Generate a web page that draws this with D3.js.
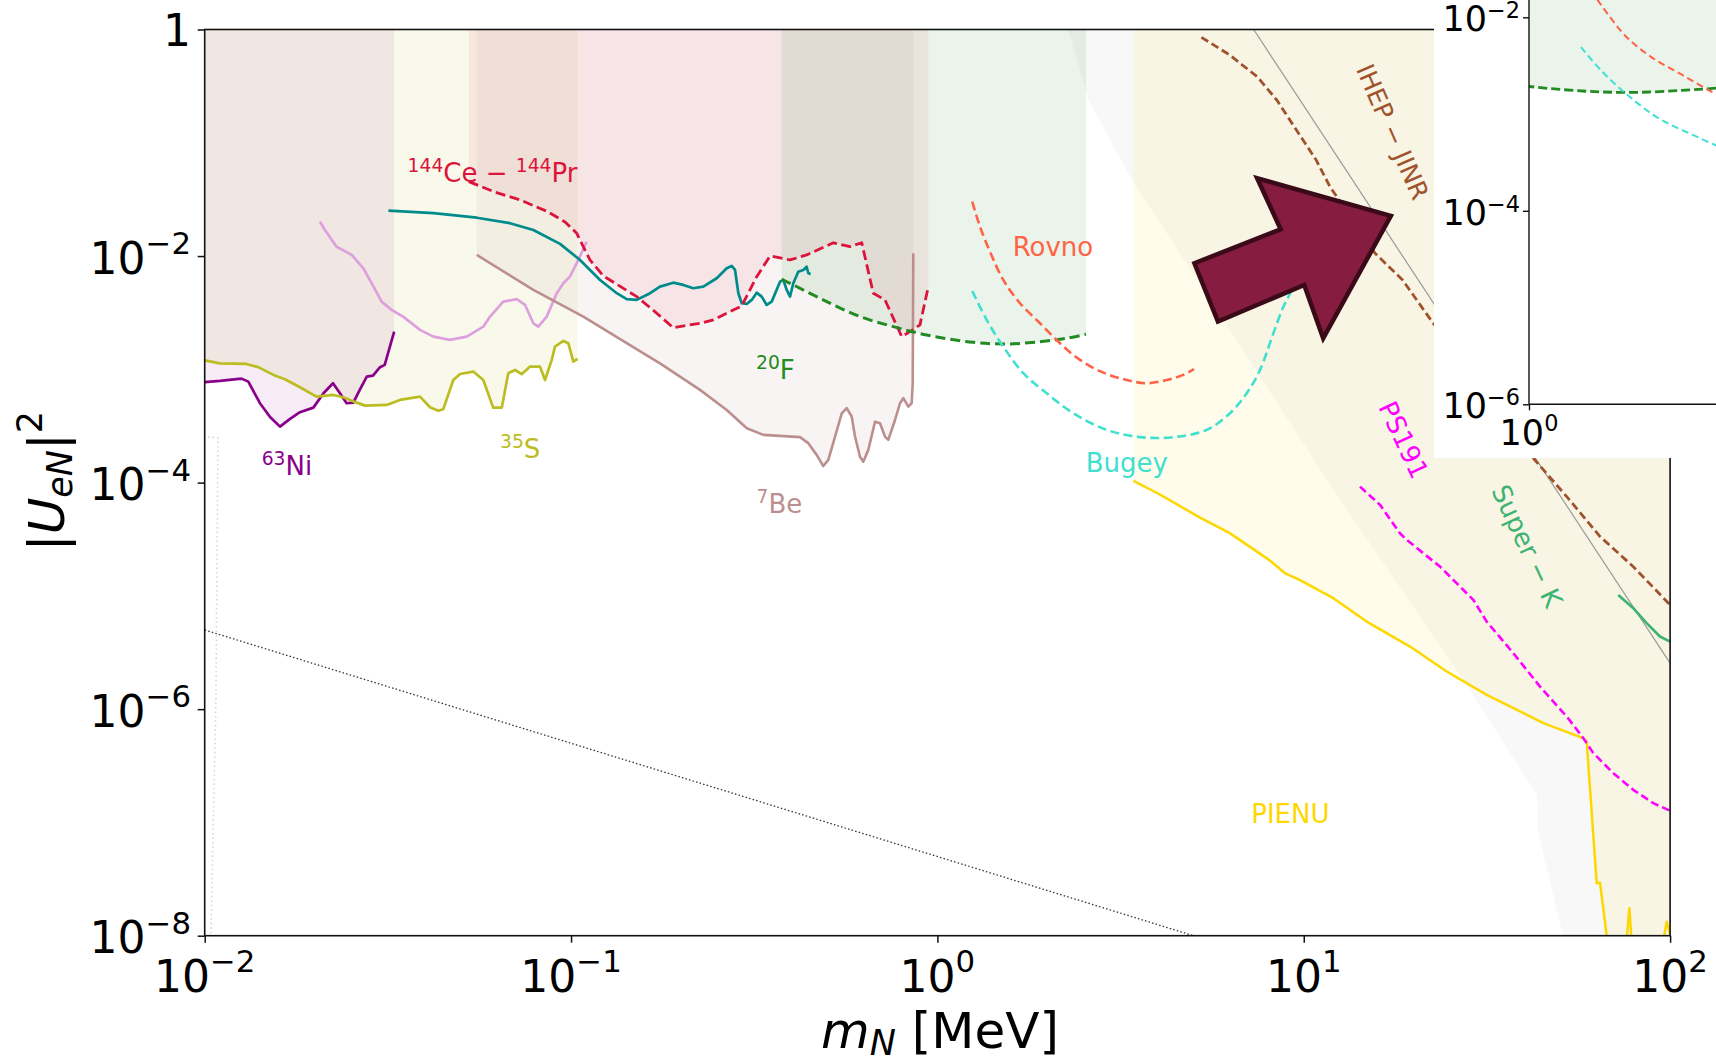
<!DOCTYPE html>
<html>
<head>
<meta charset="utf-8">
<script src="https://cdn.jsdelivr.net/npm/d3@7"></script>
<style>
  body { margin: 0; background: #fff; }
  svg { display: block; }
  text { font-family: "DejaVu Sans", sans-serif; }
</style>
</head>
<body>
<svg id="chart" width="1716" height="1064"></svg>
<script>
// ---- data: [m_N in MeV, |U_eN|^2] ----
const ni63 = [[0.01,7.7e-4],[0.0110,7.9e-4],[0.0126,8.28e-4],[0.01315,7.79e-4],[0.01415,5.02e-4],[0.0151,3.78e-4],
  [0.01605,3.12e-4],[0.0171,3.65e-4],[0.0182,4.18e-4],[0.0198,4.59e-4],[0.0211,6.15e-4],[0.0224,7.54e-4],[0.0234,6.15e-4],
  [0.0244,5.02e-4],[0.02545,5.08e-4],[0.0265,6.58e-4],[0.0277,8.63e-4],[0.0288,8.8e-4],[0.0301,1.044e-3],[0.0310,1.094e-3],[0.0329,2.15e-3]];

const s35 = [[0.01,1.20e-3],[0.0110,1.13e-3],[0.0130,1.115e-3],[0.0140,1.045e-3],[0.0154,8.93e-4],[0.01656,8.18e-4],
  [0.0182,6.95e-4],[0.0202,5.74e-4],[0.0224,5.94e-4],[0.0239,5.67e-4],[0.0260,5.08e-4],[0.0274,4.78e-4],[0.0314,4.85e-4],
  [0.0341,5.37e-4],[0.0387,5.74e-4],[0.0412,4.63e-4],[0.0434,4.30e-4],[0.0448,4.45e-4],[0.0477,8.05e-4],[0.0498,9.1e-4],
  [0.0541,9.55e-4],[0.0576,8.05e-4],[0.0613,4.59e-4],[0.0647,4.59e-4],[0.0674,9.25e-4],[0.0703,9.88e-4],[0.0733,9.06e-4],
  [0.0773,1.057e-3],[0.0823,1.057e-3],[0.0849,8.05e-4],[0.0885,1.20e-3],[0.0904,1.585e-3],[0.0953,1.78e-3],[0.0983,1.70e-3],
  [0.1014,1.17e-3],[0.1042,1.236e-3]];

const plum = [[0.02064,2.01e-2],[0.0213,1.70e-2],[0.0229,1.21e-2],[0.0252,1.023e-2],[0.0271,7.8e-3],[0.0289,5.37e-3],
  [0.0304,3.96e-3],[0.0324,3.34e-3],[0.0348,2.92e-3],[0.0387,2.23e-3],[0.0421,1.945e-3],[0.0467,1.817e-3],[0.0519,1.945e-3],
  [0.0576,2.38e-3],[0.0601,2.92e-3],[0.0653,3.96e-3],[0.0711,4.16e-3],[0.0749,3.70e-3],[0.0789,2.55e-3],[0.0814,2.38e-3],
  [0.0858,2.92e-3],[0.0914,4.70e-3],[0.0953,5.75e-3],[0.0993,6.58e-3],[0.1047,9.24e-3],[0.1103,1.34e-2]];

const teal = [[0.03173,2.52e-2],[0.0421,2.39e-2],[0.0553,2.18e-2],[0.0681,1.95e-2],[0.0789,1.70e-2],[0.0933,1.28e-2],
  [0.1058,9.24e-3],[0.1200,6.15e-3],[0.1333,4.70e-3],[0.1419,4.16e-3],[0.1511,4.10e-3],[0.1643,4.70e-3],[0.1749,5.37e-3],
  [0.1901,5.82e-3],[0.2025,5.56e-3],[0.2156,5.20e-3],[0.2296,5.37e-3],[0.2498,6.37e-3],[0.2660,7.80e-3],[0.2745,8.18e-3],
  [0.2803,7.54e-3],[0.2862,4.70e-3],[0.2924,3.83e-3],[0.3018,3.78e-3],[0.3113,4.10e-3],[0.3212,4.75e-3],[0.3314,4.38e-3],
  [0.3420,3.70e-3],[0.3530,3.96e-3],[0.3719,5.94e-3],[0.3797,6.15e-3],[0.3879,5.02e-3],[0.3960,4.38e-3],[0.4043,5.75e-3],
  [0.4171,7.28e-3],[0.4305,7.54e-3],[0.4397,8.05e-3],[0.4442,7.05e-3],[0.4509,6.95e-3]];

const ce144 = [[0.0526,4.54e-2],[0.0615,3.70e-2],[0.0726,3.13e-2],[0.0862,2.47e-2],[0.0963,2.00e-2],[0.1036,1.59e-2],
  [0.1080,1.21e-2],[0.1126,9.24e-3],[0.1225,6.67e-3],[0.1511,4.38e-3],[0.1713,3.13e-3],[0.1901,2.33e-3],[0.2249,2.55e-3],
  [0.2445,2.73e-3],[0.2924,3.63e-3],[0.3212,6.58e-3],[0.3493,1.002e-2],[0.3960,9.24e-3],[0.4397,1.023e-2],[0.5198,1.31e-2],
  [0.5772,1.21e-2],[0.6216,1.31e-2],[0.6683,4.70e-3],[0.7194,4.10e-3],[0.7991,1.945e-3],[0.8420,2.15e-3],[0.8963,2.47e-3],
  [0.9445,5.37e-3]];

const be7 = [[0.0553,1.023e-2],[0.0789,5.02e-3],[0.1080,2.92e-3],[0.1419,1.70e-3],[0.1749,1.13e-3],[0.2249,6.58e-4],
  [0.2660,4.38e-4],[0.3018,3.02e-4],[0.3349,2.64e-4],[0.4216,2.52e-4],[0.4442,2.23e-4],[0.4683,1.755e-4],[0.4881,1.40e-4],
  [0.5038,1.585e-4],[0.5255,2.55e-4],[0.5481,4.09e-4],[0.5655,4.54e-4],[0.5835,3.83e-4],[0.5958,2.55e-4],[0.6148,1.69e-4],
  [0.6277,1.53e-4],[0.6478,1.945e-4],[0.6756,3.45e-4],[0.6971,3.34e-4],[0.7194,2.55e-4],[0.7345,2.38e-4],[0.7661,3.57e-4],
  [0.7906,5.02e-4],[0.8072,5.56e-4],[0.8329,4.69e-4],[0.8508,5.02e-4],[0.8562,7.54e-4],[0.8594,1.06e-2]];

const f20 = [[0.3758,6.24e-3],[0.4043,5.56e-3],[0.4987,3.96e-3],[0.6148,2.92e-3],[0.7580,2.38e-3],[0.9350,2.01e-3],
  [1.253,1.73e-3],[1.546,1.675e-3],[1.906,1.755e-3],[2.254,1.88e-3],[2.544,2.04e-3]];

const rovno = [[1.245,3.02e-2],[1.307,1.82e-2],[1.392,1.093e-2],[1.513,6.15e-3],[1.681,3.83e-3],[1.906,2.55e-3],
  [2.161,1.70e-3],[2.451,1.21e-3],[2.838,9.35e-4],[3.287,8.05e-4],[3.727,7.54e-4],[4.226,8.05e-4],[4.691,8.93e-4],[5.017,1.002e-3]];

const bugey = [[1.245,4.92e-3],[1.363,2.73e-3],[1.513,1.585e-3],[1.716,9.25e-4],[1.988,6.15e-4],[2.349,4.10e-4],
  [2.898,2.92e-4],[3.573,2.52e-4],[4.405,2.52e-4],[5.434,2.92e-4],[6.291,4.10e-4],[6.987,6.15e-4],[7.597,9.88e-4],
  [8.26,2.08e-3],[8.796,3.57e-3],[9.174,4.70e-3],[9.9,1.0e-2]];

const pienu = [[3.428,1.037e-4],[4.024,7.93e-5],[5.152,5.01e-5],[6.280,3.58e-5],[8.04,2.08e-5],[8.87,1.59e-5],
  [9.77,1.38e-5],[12.04,9.54e-6],[14.85,5.93e-6],[19.50,3.57e-6],[24.56,2.15e-6],[31.58,1.337e-6],[45.07,7.53e-7],
  [57.38,5.61e-7],[59.2,5.18e-7],[63.04,2.91e-8],[64.37,2.94e-8],[67.14,9.9e-9],[70.73,6e-9],[75.33,6e-9],[77.4,1.75e-8],
  [79.2,6e-9],[93.8,6e-9],[97.9,1.33e-8],[100,1.02e-8]];

const ps191 = [[14.24,9.22e-5],[16.15,6.36e-5],[18.31,3.57e-5],[19.10,3.12e-5],[23.54,1.815e-5],[29.03,9.22e-6],
  [31.58,5.93e-6],[37.33,3.12e-6],[44.15,1.58e-6],[52.22,8.6e-7],[57.96,5.55e-7],[61.72,4.09e-7],[69.98,2.72e-7],
  [79.35,1.94e-7],[89.98,1.48e-7],[100,1.27e-7]];

const ihep = [[5.255,0.853],[6.28,0.596],[7.464,0.383],[8.44,0.2386],[9.55,0.1297],[10.81,0.0705],[11.79,0.041],
  [15.65,1.059e-2],[18.61,6.15e-3],[22.56,2.55e-3],[42.33,1.64e-4],[52.22,7.52e-5],[64.39,3.34e-5],[79.35,1.81e-5],[100,8.33e-6]];

const superK = [[72.2,1.02e-5],[79.35,7.79e-6],[86.3,5.74e-6],[93.8,4.38e-6],[100,3.95e-6]];

const greyLine = [[7.30,1],[100,2.55e-6]];
const dotLine = [[0.01,5.0e-6],[5.0,1e-8]];
const lavender = [[0.01021,2.53e-4],[0.01087,2.48e-4],[0.01073,1.21e-6],[0.01040,1.02e-8]];

// light grey excluded band (polygon)
const greyBand = [[2.273,1],[2.58,0.24],[3.398,0.047],[12.56,7.03e-5],[27.21,1.815e-6],[43.32,1.75e-7],
  [43.59,8.1e-8],[51.03,1e-8],[100,1e-8],[100,1]];

// block arrow pointing at the inset
const arrowPts = [[17.29,2.26e-2],[7.46,4.86e-2],[8.65,1.724e-2],[5.03,8.64e-3],[5.83,2.64e-3],[10.03,5.56e-3],[11.30,1.88e-3]];

const xTicks = [1e-2, 1e-1, 1, 10, 100];
const xTickExp = ["−2", "−1", "0", "1", "2"];
const yTicks = [1, 1e-2, 1e-4, 1e-6, 1e-8];
const yTickExp = [null, "−2", "−4", "−6", "−8"];
const insetYTicks = [1e-2, 1e-4, 1e-6];
const insetYExp = ["−2", "−4", "−6"];

// ---- layout ----
const plot = {left: 204.7, right: 1670.1, top: 29.5, bottom: 935.7};
const ins = {boxLeft: 1434, boxBottom: 458, left: 1529, right: 1716, bottom: 404.3};

const x = d3.scaleLog().domain([1e-2, 1e2]).range([plot.left, plot.right]);
const y = d3.scaleLog().domain([1e-8, 1]).range([plot.bottom, plot.top]);
const xi = d3.scaleLog().domain([1, 10]).range([ins.left, ins.left + 546]);
const yi = d3.scaleLog().domain([1e-6, 1e-2]).range([ins.bottom, 17.3]);

const svg = d3.select("#chart");
const defs = svg.append("defs");
defs.append("clipPath").attr("id", "clipMain").append("rect")
  .attr("x", plot.left).attr("y", plot.top)
  .attr("width", plot.right - plot.left).attr("height", plot.bottom - plot.top);
defs.append("clipPath").attr("id", "clipInset").append("rect")
  .attr("x", ins.left).attr("y", 0)
  .attr("width", ins.right - ins.left).attr("height", ins.bottom);

// text with super/subscripts: parts = [string, mode(1 sup, -1 sub, 0), italic]
function rich(t, parts, fs, supScale = 0.7, raise = 0.44, drop = 0.15) {
  let cur = 0;
  parts.forEach(([s, mode, it]) => {
    const off = mode === 1 ? -fs * raise : mode === -1 ? fs * drop : 0;
    t.append("tspan")
      .attr("font-size", mode ? fs * supScale : fs)
      .attr("dy", off - cur)
      .attr("font-style", it ? "italic" : null)
      .text(s);
    cur = off;
  });
}

const main = svg.append("g").attr("clip-path", "url(#clipMain)");

// exclusion fills (curve up to |U|^2 = 1)
const area = d3.area().x(d => x(d[0])).y0(y(1)).y1(d => y(d[1]));
main.append("path").datum(greyBand)
  .attr("d", d3.line().x(d => x(d[0])).y(d => y(d[1])))
  .attr("fill", "#000").attr("fill-opacity", 0.028);

const fills = [
  {data: ni63, color: "#8b008b", op: 0.08},
  {data: s35, color: "#bcbd22", op: 0.09},
  {data: ce144, color: "#dc143c", op: 0.07},
  {data: be7, color: "#bc8f8f", op: 0.10},
  {data: f20, color: "#228b22", op: 0.095},
  {data: pienu, color: "#ffd700", op: 0.08}
];
fills.forEach(f => {
  main.append("path").datum(f.data).attr("d", area)
    .attr("fill", f.color).attr("fill-opacity", f.op);
});

const line = d3.line().x(d => x(d[0])).y(d => y(d[1]));
const smooth = d3.line().x(d => x(d[0])).y(d => y(d[1])).curve(d3.curveCatmullRom.alpha(0.5));

const lines = [
  {data: lavender, color: "#d2d3ec", w: 1.6, dash: "1.5,3"},
  {data: dotLine, color: "#333", w: 1.3, dash: "1.5,2.2"},
  {data: greyLine, color: "#9a9a9a", w: 1.2},
  {data: ni63, color: "#8b008b", w: 2.7},
  {data: s35, color: "#bcbd22", w: 2.7},
  {data: plum, color: "#dda0dd", w: 2.7},
  {data: be7, color: "#bc8f8f", w: 2.6},
  {data: teal, color: "#008b8b", w: 2.7},
  {data: ce144, color: "#dc143c", w: 2.8, dash: "10,4.5"},
  {data: f20, color: "#228b22", w: 3, dash: "10,5", smooth: true},
  {data: rovno, color: "#ff6347", w: 2.6, dash: "9,4.5", smooth: true},
  {data: bugey, color: "#40e0d0", w: 2.6, dash: "9,4.5", smooth: true},
  {data: pienu, color: "#ffd700", w: 2.5},
  {data: ps191, color: "#ff00ff", w: 2.6, dash: "8,4"},
  {data: ihep, color: "#a0522d", w: 2.8, dash: "8,4"},
  {data: superK, color: "#3cb371", w: 2.6}
];
lines.forEach(l => {
  main.append("path").datum(l.data)
    .attr("d", l.smooth ? smooth : line)
    .attr("fill", "none").attr("stroke", l.color)
    .attr("stroke-width", l.w)
    .attr("stroke-linejoin", "round")
    .attr("stroke-dasharray", l.dash || null);
});

// curve labels
const notes = [
  {parts: [["144", 1], ["Ce − ", 0], ["144", 1], ["Pr", 0]], at: [0.0358, 0.0454], color: "#dc143c"},
  {parts: [["63", 1], ["Ni", 0]], at: [0.01431, 1.17e-4], color: "#8b008b"},
  {parts: [["35", 1], ["S", 0]], at: [0.0640, 1.64e-4], color: "#bcbd22"},
  {parts: [["7", 1], ["Be", 0]], at: [0.321, 5.37e-5], color: "#bc8f8f"},
  {parts: [["20", 1], ["F", 0]], at: [0.3198, 8.18e-4], color: "#228b22"},
  {parts: [["Rovno", 0]], at: [1.605, 1.0e-2], color: "#ff6347"},
  {parts: [["Bugey", 0]], at: [2.54, 1.25e-4], color: "#40e0d0"},
  {parts: [["PIENU", 0]], at: [7.19, 9.86e-8], color: "#ffd700"},
  {parts: [["PS191", 0]], at: [18.72, 2.38e-4], color: "#ff00ff", rot: 65},
  {parts: [["Super − K", 0]], at: [40.7, 2.76e-5], color: "#3cb371", rot: 65},
  {parts: [["IHEP − JINR", 0]], at: [17.5, 0.125], color: "#a0522d", rot: 66.5, size: 25}
];
const labelG = svg.append("g");
notes.forEach(n => {
  const px = x(n.at[0]), py = y(n.at[1]);
  const fs = n.size || 26;
  const t = labelG.append("text").attr("fill", n.color).attr("font-size", fs);
  if (n.rot) {
    t.attr("text-anchor", "middle").attr("dominant-baseline", "central")
      .attr("transform", `translate(${px},${py}) rotate(${n.rot})`);
  } else {
    t.attr("x", px).attr("y", py);
  }
  rich(t, n.parts, fs, 0.72, 0.38);
});

// arrow
svg.append("path").datum(arrowPts)
  .attr("d", d3.line().x(d => x(d[0])).y(d => y(d[1])).curve(d3.curveLinearClosed))
  .attr("fill", "#861c3f").attr("stroke", "#3a0a18")
  .attr("stroke-width", 4.5).attr("stroke-linejoin", "miter");

// axes of main plot
const axes = svg.append("g");
axes.append("rect")
  .attr("x", plot.left).attr("y", plot.top)
  .attr("width", plot.right - plot.left).attr("height", plot.bottom - plot.top)
  .attr("fill", "none").attr("stroke", "#111").attr("stroke-width", 1.6);

axes.append("g").attr("transform", `translate(0,${plot.bottom})`)
  .call(d3.axisBottom(x).tickValues(xTicks).tickSize(7).tickSizeOuter(0).tickFormat(() => ""))
  .call(g => g.select(".domain").remove())
  .call(g => g.selectAll(".tick line").attr("stroke", "#111").attr("stroke-width", 1.5));
axes.append("g").attr("transform", `translate(${plot.left},0)`)
  .call(d3.axisLeft(y).tickValues(yTicks).tickSize(7).tickSizeOuter(0).tickFormat(() => ""))
  .call(g => g.select(".domain").remove())
  .call(g => g.selectAll(".tick line").attr("stroke", "#111").attr("stroke-width", 1.5));

xTicks.forEach((v, i) => {
  const t = axes.append("text").attr("x", x(v)).attr("y", plot.bottom + 56)
    .attr("text-anchor", "middle").attr("fill", "#000");
  rich(t, [["10", 0], [xTickExp[i], 1]], 44);
});
yTicks.forEach((v, i) => {
  const t = axes.append("text").attr("x", 191)
    .attr("y", y(v) + (yTickExp[i] ? 17.5 : 16))
    .attr("text-anchor", "end").attr("fill", "#000");
  if (yTickExp[i]) rich(t, [["10", 0], [yTickExp[i], 1]], 44);
  else rich(t, [["1", 0]], 44);
});

const xl = axes.append("text").attr("x", 940).attr("y", 1048).attr("text-anchor", "middle");
rich(xl, [["m", 0, true], ["N", -1, true], [" [MeV]", 0]], 50, 0.7, 0.44, 0.14);
const yl = axes.append("text").attr("transform", "translate(64,481) rotate(-90)").attr("text-anchor", "middle");
rich(yl, [["|", 0], ["U", 0, true], ["eN", -1, true], ["|", 0], ["2", 1]], 50, 0.7, 0.45);

// ---- inset (zoom on 1 MeV region) ----
const inset = svg.append("g");
inset.append("rect").attr("x", ins.boxLeft).attr("y", 0)
  .attr("width", 1716 - ins.boxLeft).attr("height", ins.boxBottom).attr("fill", "#fff");

const ig = inset.append("g").attr("clip-path", "url(#clipInset)");
ig.append("path").datum(f20)
  .attr("d", d3.area().x(d => xi(d[0])).y0(yi(1)).y1(d => yi(d[1])).curve(d3.curveCatmullRom.alpha(0.5)))
  .attr("fill", "#228b22").attr("fill-opacity", 0.095);
const iline = d3.line().x(d => xi(d[0])).y(d => yi(d[1])).curve(d3.curveCatmullRom.alpha(0.5));
[
  {data: f20, color: "#228b22", w: 2.8, dash: "9,4"},
  {data: rovno, color: "#ff6347", w: 2, dash: "7,4"},
  {data: bugey, color: "#40e0d0", w: 2, dash: "7,4"}
].forEach(l => {
  ig.append("path").datum(l.data).attr("d", iline)
    .attr("fill", "none").attr("stroke", l.color)
    .attr("stroke-width", l.w).attr("stroke-dasharray", l.dash);
});

inset.append("g").attr("transform", `translate(${ins.left},0)`)
  .call(d3.axisLeft(yi).tickValues(insetYTicks).tickSize(6).tickSizeOuter(0).tickFormat(() => ""))
  .call(g => g.select(".domain").remove())
  .call(g => g.selectAll(".tick line").attr("stroke", "#111").attr("stroke-width", 1.4));
inset.append("g").attr("transform", `translate(0,${ins.bottom})`)
  .call(d3.axisBottom(xi).tickValues([1]).tickSize(6).tickSizeOuter(0).tickFormat(() => ""))
  .call(g => g.select(".domain").remove())
  .call(g => g.selectAll(".tick line").attr("stroke", "#111").attr("stroke-width", 1.4));
inset.append("line").attr("x1", ins.left).attr("x2", ins.left).attr("y1", 0).attr("y2", ins.bottom)
  .attr("stroke", "#111").attr("stroke-width", 1.4);
inset.append("line").attr("x1", ins.left).attr("x2", ins.right).attr("y1", ins.bottom).attr("y2", ins.bottom)
  .attr("stroke", "#111").attr("stroke-width", 1.4);

insetYTicks.forEach((v, i) => {
  const t = inset.append("text").attr("x", 1520).attr("y", yi(v) + 14)
    .attr("text-anchor", "end").attr("fill", "#000");
  rich(t, [["10", 0], [insetYExp[i], 1]], 35, 0.64, 0.38);
});
const it0 = inset.append("text").attr("x", xi(1)).attr("y", 445).attr("text-anchor", "middle");
rich(it0, [["10", 0], ["0", 1]], 35, 0.64, 0.4);
</script>
</body>
</html>
